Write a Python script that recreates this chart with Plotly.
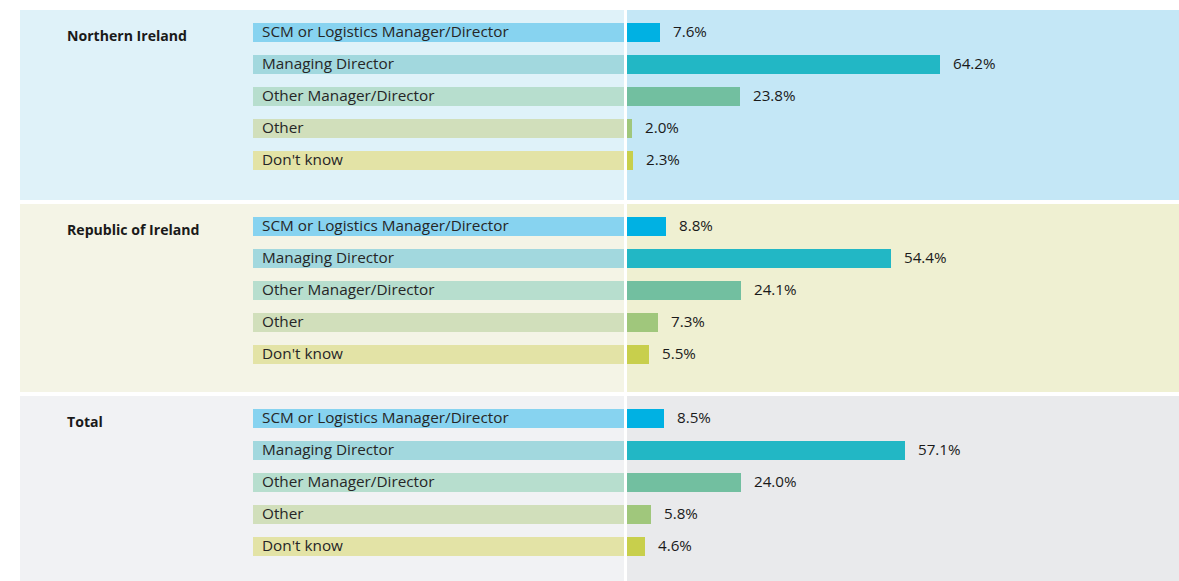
import plotly.graph_objects as go

# ---- data ----
regions = ["Northern Ireland", "Republic of Ireland", "Total"]
roles = ["SCM or Logistics Manager/Director", "Managing Director",
         "Other Manager/Director", "Other", "Don't know"]
ni_values = [7.6, 64.2, 23.8, 2.0, 2.3]
roi_values = [8.8, 54.4, 24.1, 7.3, 5.5]
total_values = [8.5, 57.1, 24.0, 5.8, 4.6]
values_by_region = [ni_values, roi_values, total_values]

# ---- styles ----
W, H = 1179, 581
bar_colors = ["#00B1E3", "#22B7C5", "#72BFA0", "#A0C77C", "#C8CF4C"]
strip_colors = ["#87D3F0", "#A2D8DE", "#B7DECE", "#D1DFBB", "#E3E3A6"]
bg_left = ["#DFF2F9", "#F4F4E6", "#F1F2F4"]
bg_right = ["#C4E7F6", "#EFF0D2", "#E9EAEC"]
panel_tops = [10, 204, 396]
panel_bottoms = [200, 392, 581]
row_gap = 32
first_row = 22.5
bar_h = 19

zero_px = 622.0
px_per_unit = 4.95
x_range = [-zero_px / px_per_unit, (W - zero_px) / px_per_unit]


def px_to_x(px):
    return (px - zero_px) / px_per_unit


fig = go.Figure()
shapes = []
annotations = []

for r, region in enumerate(regions):
    top, bot = panel_tops[r], panel_bottoms[r]
    # panel backgrounds
    shapes.append(dict(type="rect", xref="paper", yref="y", x0=20 / W, x1=624 / W,
                       y0=top, y1=bot, fillcolor=bg_left[r], line_width=0, layer="below"))
    shapes.append(dict(type="rect", xref="paper", yref="y", x0=627 / W, x1=1,
                       y0=top, y1=bot, fillcolor=bg_right[r], line_width=0, layer="below"))
    annotations.append(dict(text="<b>%s</b>" % region, xref="paper", yref="y",
                            x=65 / W, y=top + first_row + 3, xanchor="left", yanchor="middle",
                            showarrow=False, font=dict(size=14.1, color="#1a1a1a")))
    ys = [top + first_row + row_gap * i for i in range(len(roles))]
    vals = values_by_region[r]
    # value bars
    fig.add_trace(go.Bar(
        y=ys, x=vals, base=0, orientation="h", width=bar_h,
        marker=dict(color=bar_colors, line_width=0),
        showlegend=False, hovertemplate="%{x:.1f}%<extra></extra>"))
    # label strips (drawn on top so they cover the bar start)
    fig.add_trace(go.Bar(
        y=ys, x=[px_to_x(624) - px_to_x(253)] * len(roles), base=px_to_x(253),
        orientation="h", width=bar_h, marker=dict(color=strip_colors, line_width=0),
        hoverinfo="skip", showlegend=False))
    for i, role in enumerate(roles):
        annotations.append(dict(text=role, xref="paper", yref="y", x=260 / W, y=ys[i] - 1.3,
                                xanchor="left", yanchor="middle", showarrow=False,
                                font=dict(size=15.3, color="#262626")))
        annotations.append(dict(text="%.1f%%" % vals[i], xref="x", yref="y", x=vals[i],
                                y=ys[i] - 1.5, xanchor="left", yanchor="middle", xshift=11,
                                showarrow=False, font=dict(size=15.2, color="#1a1a1a")))

# white separator
shapes.append(dict(type="rect", xref="paper", yref="paper", x0=624 / W, x1=627 / W,
                   y0=0, y1=1, fillcolor="white", line_width=0, layer="above"))

fig.update_layout(
    width=W, height=H, margin=dict(l=0, r=0, t=0, b=0),
    paper_bgcolor="white", plot_bgcolor="rgba(0,0,0,0)",
    barmode="overlay", bargap=0,
    font=dict(family="Open Sans, sans-serif"),
    xaxis=dict(range=x_range, visible=False, fixedrange=True),
    yaxis=dict(range=[H, 0], visible=False, fixedrange=True),
    shapes=shapes, annotations=annotations,
)

fig.write_html("out.html", config={"displayModeBar": False},
               post_script="document.body.style.margin='0';document.body.style.overflow='hidden';")
